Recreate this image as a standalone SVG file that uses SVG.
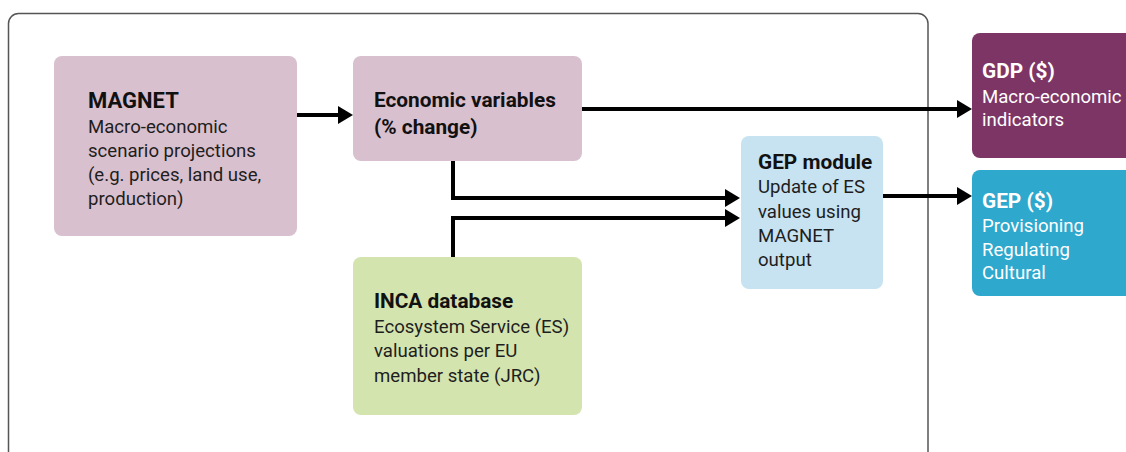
<svg xmlns="http://www.w3.org/2000/svg" width="1126" height="452" viewBox="0 0 1126 452">
<defs>
<style>
.frame{fill:none;stroke:#555;stroke-width:1.5}
.box{stroke:none}
.t{font-family:Roboto,"Liberation Sans",sans-serif;font-size:18.6px;fill:#1e1e1e}
.h{font-family:Roboto,"Liberation Sans",sans-serif;font-size:20.8px;font-weight:bold;fill:#111}
.w{fill:#fff}
.conn{fill:none;stroke:#000;stroke-width:4;stroke-linejoin:miter}
</style>
<marker id="ah" markerUnits="userSpaceOnUse" markerWidth="16" markerHeight="18" refX="3" refY="9" orient="auto" overflow="visible">
<path d="M0,0 L15,9 L0,18 z" fill="#000"/>
</marker>
</defs>
<rect width="1126" height="452" fill="#fff"/>
<rect class="frame" x="8.5" y="13.5" width="919.5" height="460" rx="10"/>
<g id="magnet">
<rect class="box" x="54" y="56" width="243" height="180" rx="8" fill="#d9c0ce"/>
<text class="h" x="88" y="108" style="font-size:22px">MAGNET</text>
<text class="t" x="88" y="133">Macro-economic</text>
<text class="t" x="88" y="157">scenario projections</text>
<text class="t" x="88" y="181">(e.g. prices, land use,</text>
<text class="t" x="88" y="205">production)</text>
</g>
<g id="econ">
<rect class="box" x="353" y="56" width="229" height="105" rx="8" fill="#d9c0ce"/>
<text class="h" x="374" y="107">Economic variables</text>
<text class="h" x="374" y="134">(% change)</text>
</g>
<g id="gepmodule">
<rect class="box" x="741" y="136" width="142" height="153" rx="8" fill="#c7e2f1"/>
<text class="h" x="758" y="169">GEP module</text>
<text class="t" x="758" y="193">Update of ES</text>
<text class="t" x="758" y="218">values using</text>
<text class="t" x="758" y="242">MAGNET</text>
<text class="t" x="758" y="266">output</text>
</g>
<g id="inca">
<rect class="box" x="353" y="257" width="229" height="158" rx="8" fill="#d4e4ae"/>
<text class="h" x="374" y="308">INCA database</text>
<text class="t" x="374" y="333">Ecosystem Service (ES)</text>
<text class="t" x="374" y="357">valuations per EU</text>
<text class="t" x="374" y="382">member state (JRC)</text>
</g>
<g id="gdp">
<rect class="box" x="972" y="33" width="170" height="125" rx="8" fill="#7d3566"/>
<text class="h w" x="982" y="78">GDP ($)</text>
<text class="t w" x="982" y="103">Macro-economic</text>
<text class="t w" x="982" y="126">indicators</text>
</g>
<g id="gep">
<rect class="box" x="972" y="170" width="170" height="126" rx="8" fill="#2ea8cd"/>
<text class="h w" x="982" y="208">GEP ($)</text>
<text class="t w" x="982" y="232">Provisioning</text>
<text class="t w" x="982" y="256">Regulating</text>
<text class="t w" x="982" y="279">Cultural</text>
</g>
<g id="connectors">
<path class="conn" d="M297,115 H341" marker-end="url(#ah)"/>
<path class="conn" d="M582,109 H960" marker-end="url(#ah)"/>
<path class="conn" d="M453,161 V198 H728" marker-end="url(#ah)"/>
<path class="conn" d="M453,257 V218 H728" marker-end="url(#ah)"/>
<path class="conn" d="M883,196 H960" marker-end="url(#ah)"/>
</g>
</svg>
